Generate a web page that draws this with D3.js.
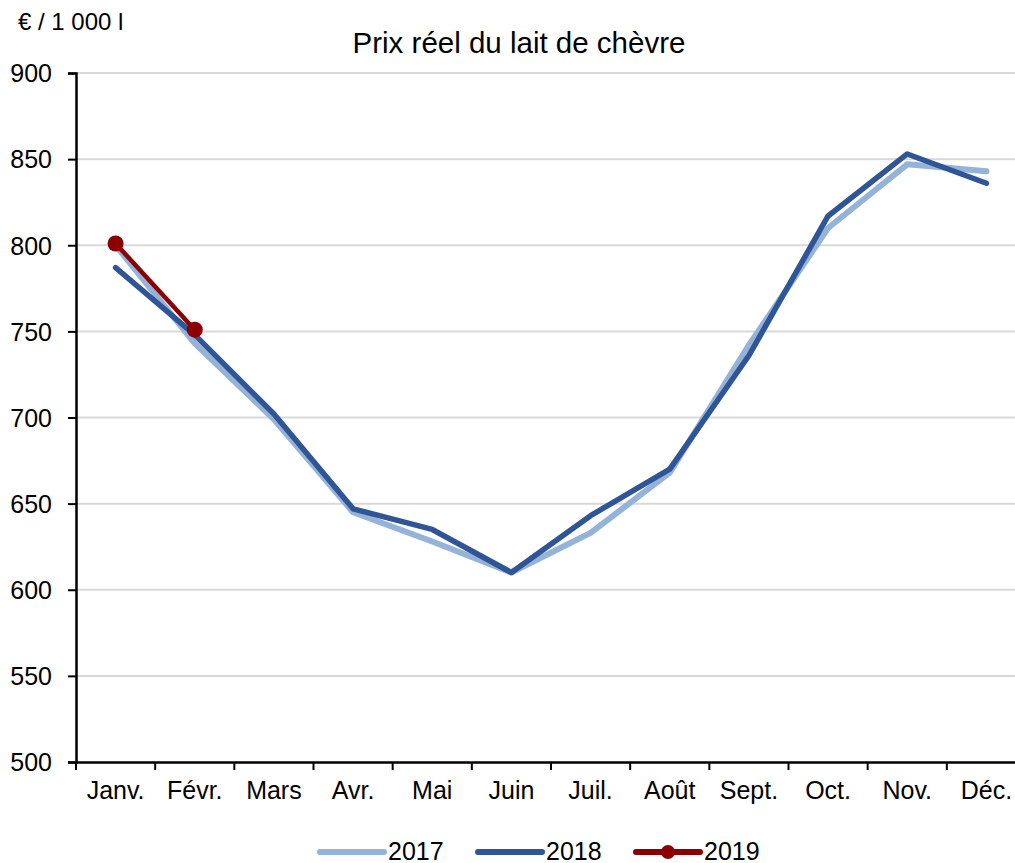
<!DOCTYPE html>
<html>
<head>
<meta charset="utf-8">
<script src="https://cdn.jsdelivr.net/npm/d3@7"></script>
<style>
  body { margin: 0; background: #fff; }
  svg { display: block; font-family: "Liberation Sans", Arial, sans-serif; }
</style>
</head>
<body>
<div id="container"></div>
<script>
// data
var months = ["Janv.", "Févr.", "Mars", "Avr.", "Mai", "Juin", "Juil.", "Août", "Sept.", "Oct.", "Nov.", "Déc."];
var v2017 = [800, 743, 699, 645, 628, 610, 633, 668, 742, 810, 847, 843];
var v2018 = [787, 748, 702, 647, 635, 610, 643, 670, 736, 817, 853, 836];
var v2019 = [801, 751];
var yTicks = [500, 550, 600, 650, 700, 750, 800, 850, 900];

var series = [
  { name: "2017", values: v2017, color: "#95b3d7", width: 6, dots: false },
  { name: "2018", values: v2018, color: "#2f5597", width: 5.5, dots: false },
  { name: "2019", values: v2019, color: "#8b0000", width: 4.5, dots: true }
];

var width = 1015, height = 863;
var plotLeft = 76, plotRight = 1026, plotTop = 73, plotBottom = 762;

var svg = d3.select("#container").append("svg")
    .attr("width", width)
    .attr("height", height);

var x = d3.scaleBand().domain(months).range([plotLeft, plotRight]);
var y = d3.scaleLinear().domain([500, 900]).range([plotBottom, plotTop]);

// gridlines
svg.append("g")
  .selectAll("line")
  .data(yTicks.slice(1))
  .enter().append("line")
    .attr("x1", plotLeft).attr("x2", plotRight)
    .attr("y1", d => y(d)).attr("y2", d => y(d))
    .style("stroke", "#d9d9d9")
    .style("stroke-width", 2);

// axes
var yAxis = svg.append("g")
    .attr("transform", "translate(" + plotLeft + ",0)")
    .call(d3.axisLeft(y).tickValues(yTicks).tickSize(8).tickPadding(16));
var xAxis = svg.append("g")
    .attr("transform", "translate(0," + plotBottom + ")")
    .call(d3.axisBottom(x).tickSize(0));

// x ticks at band edges
xAxis.append("g").selectAll("line")
  .data(months)
  .enter().append("line")
    .attr("x1", d => x(d)).attr("x2", d => x(d))
    .attr("y1", 0).attr("y2", 8)
    .style("stroke", "#000").style("stroke-width", 2);

[xAxis, yAxis].forEach(function(a) {
  a.attr("font-size", 25).attr("font-family", "'Liberation Sans', Arial, sans-serif");
  a.select(".domain").style("stroke", "#000").style("stroke-width", 2.5);
  a.selectAll(".tick line").style("stroke", "#000").style("stroke-width", 2);
  a.selectAll("text").style("fill", "#000");
});
yAxis.selectAll(".tick text").attr("dy", "0.35em");
xAxis.selectAll(".tick text").attr("y", 37).attr("dy", 0);

// lines
var line = d3.line()
    .x((d, i) => x(months[i]) + x.bandwidth() / 2)
    .y(d => y(d));

var g = svg.selectAll(".serie")
  .data(series)
  .enter().append("g");

g.append("path")
    .attr("d", d => line(d.values))
    .style("fill", "none")
    .style("stroke", d => d.color)
    .style("stroke-width", d => d.width)
    .style("stroke-linecap", "round")
    .style("stroke-linejoin", "round");

g.filter(d => d.dots).selectAll("circle")
  .data(d => d.values.map(v => ({ v: v, c: d.color })))
  .enter().append("circle")
    .attr("cx", (d, i) => x(months[i]) + x.bandwidth() / 2)
    .attr("cy", d => y(d.v))
    .attr("r", 8)
    .style("fill", d => d.c);

// titles
svg.append("text")
    .attr("x", 519).attr("y", 53)
    .style("text-anchor", "middle")
    .style("font-size", "29.5px")
    .text("Prix réel du lait de chèvre");

svg.append("text")
    .attr("x", 18).attr("y", 30)
    .style("font-size", "24px")
    .text("€ / 1 000 l");

// legend
var legendX = [320, 478, 636];
var lg = svg.selectAll(".legend")
  .data(series)
  .enter().append("g")
    .attr("transform", (d, i) => "translate(" + legendX[i] + ",852)");
lg.append("line")
    .attr("x1", 0).attr("x2", 64)
    .style("stroke", d => d.color)
    .style("stroke-width", 6)
    .style("stroke-linecap", "round");
lg.filter(d => d.dots).append("circle")
    .attr("cx", 32).attr("r", 7)
    .style("fill", d => d.color);
lg.append("text")
    .attr("x", 68).attr("dy", "0.33em")
    .style("font-size", "25px")
    .text(d => d.name);
</script>
</body>
</html>
